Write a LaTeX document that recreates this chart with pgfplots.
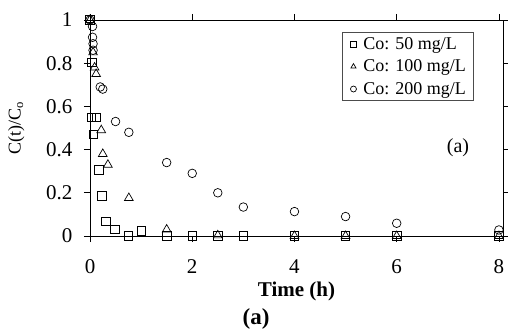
\documentclass[border=0pt]{standalone}
\usepackage{fontspec}
\setmainfont{Liberation Serif}
\usepackage{pgfplots}
\pgfplotsset{compat=1.18}
\begin{document}
\begin{tikzpicture}
\begin{axis}[
  at={(90bp,99bp)}, anchor=south west,
  scale only axis, width=413bp, height=216bp,
  xmin=0, xmax=8.08, ymin=0, ymax=1,
  clip=false,
  axis line style={line width=0.8pt},
  xtick={0,2,4,6,8}, ytick={0,0.2,0.4,0.6,0.8,1},
  yticklabels={0,0.2,0.4,0.6,0.8,1},
  tick align=outside, major tick length=6bp,
  tick style={black, line width=0.7pt},
  /pgf/number format/assume math mode=true,
  ticklabel style={font=\fontsize{21bp}{22bp}\selectfont},
  xticklabel style={yshift=-14bp},
  yticklabel style={xshift=-8bp},
  xlabel={\textbf{Time (h)}},
  xlabel style={font=\fontsize{21bp}{22bp}\selectfont, yshift=-1bp},
  ylabel={C(t)/C\textsubscript{o}},
  ylabel style={font=\fontsize{18bp}{20bp}\selectfont, yshift=15bp},
  legend style={at={(0.610,0.944)}, anchor=north west, draw=black!70, line width=0.6pt,
    font=\fontsize{18bp}{20bp}\selectfont, inner xsep=5bp, inner ysep=3bp, row sep=5bp,
    legend cell align=left},
  legend image code/.code={\draw[mark size=3bp] plot coordinates {(0.22cm,0cm)};
     \path[draw=none] (0cm,0cm) -- (0.5cm,0cm);},
]
\addplot[only marks, mark=square, mark size=4.2bp, line width=0.7pt, black] coordinates {
(0,1.0) (0.04,0.805) (0.03,0.55) (0.12,0.55) (0.06,0.47) (0.17,0.306) (0.23,0.185)
(0.31,0.068) (0.49,0.03) (0.75,0.0) (1.0,0.023) (1.5,0.0) (2.0,0.0) (2.5,0.0)
(3.0,0.0) (4.0,0.0) (5.0,0.0) (6.0,0.0) (8.0,0.0)
};
\addlegendentry{Co: 50 mg/L}
\addplot[only marks, mark=triangle, mark size=5bp, line width=0.7pt, black] coordinates {
(0,1.0) (0.06,0.85) (0.09,0.78) (0.12,0.75) (0.22,0.49) (0.25,0.38) (0.35,0.33)
(0.76,0.176) (1.5,0.03) (2.5,0.003) (4.0,0.0) (5.0,0.0) (6.0,0.0) (8.0,0.0)
};
\addlegendentry{Co: 100 mg/L}
\addplot[only marks, mark=o, mark size=4.3bp, line width=0.7pt, black] coordinates {
(0,1.0) (0.05,0.97) (0.05,0.92) (0.06,0.89) (0.06,0.86) (0.2,0.69) (0.25,0.68)
(0.5,0.53) (0.76,0.48) (1.5,0.34) (2.0,0.29) (2.5,0.20) (3.0,0.134) (4.0,0.113)
(5.0,0.09) (6.0,0.059) (8.0,0.028)
};
\addlegendentry{Co: 200 mg/L}
\node[font=\fontsize{20bp}{22bp}\selectfont] at (axis cs:7.2,0.41) {(a)};
\end{axis}
\node[font=\fontsize{23bp}{24bp}\selectfont\bfseries] at (256bp,16bp) {(a)};
\pgfresetboundingbox
\path (0,0) rectangle (508bp,335bp);
\end{tikzpicture}
\end{document}
